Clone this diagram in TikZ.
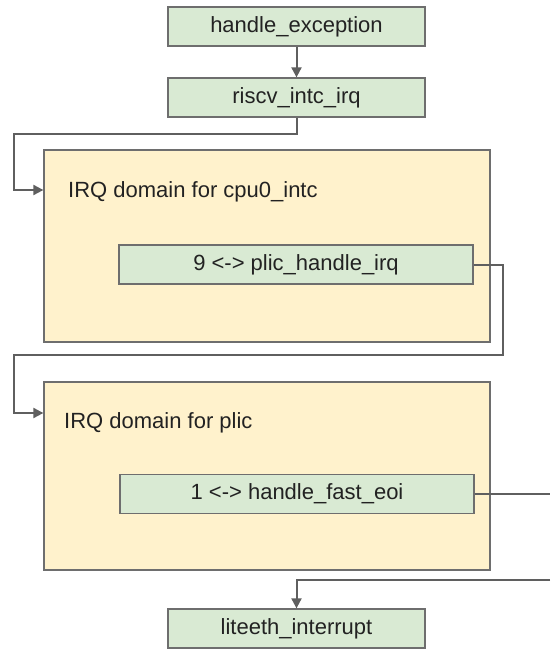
\documentclass[tikz,border=0pt]{standalone}
\usepackage{fontspec}
\setmainfont{Liberation Sans}
\usetikzlibrary{arrows.meta}
\definecolor{gfill}{HTML}{D9EAD3}
\definecolor{yfill}{HTML}{FFF2CC}
\definecolor{edge}{HTML}{6E6E6E}
\definecolor{lineg}{HTML}{5F5F5F}
\definecolor{txt}{HTML}{222222}
\begin{document}
\begin{tikzpicture}[x=1pt,y=-1pt,
  fn/.style={draw=edge,line width=1.3pt,fill=gfill,minimum height=39pt,inner sep=0pt,text=txt,font=\fontsize{22}{25}\selectfont},
  dom/.style={draw=edge,line width=1.3pt,fill=yfill,inner sep=0pt},
  lab/.style={anchor=west,inner sep=0pt,text=txt,font=\fontsize{22}{25}\selectfont},
  conn/.style={draw=lineg,line width=2pt,-{Triangle[length=10pt,width=10pt]}},
  plain/.style={draw=lineg,line width=2pt}]
\useasboundingbox (0,0) rectangle (550,650);
\fill[white] (0,0) rectangle (550,650);
\node[fn,minimum width=257pt] (he) at (296.5,26.5) {handle\_exception};
\node[fn,minimum width=257pt] (ri) at (296.5,97.5) {riscv\_intc\_irq};
\node[dom,minimum width=446pt,minimum height=192pt] (d1) at (267,246) {};
\node[lab] (l1) at (68,192) {IRQ domain for cpu0\_intc};
\node[fn,minimum width=354pt] (p1) at (296,264.5) {9 <-> plic\_handle\_irq};
\node[dom,minimum width=446pt,minimum height=188pt] (d2) at (267,476) {};
\node[lab] (l2) at (64,423) {IRQ domain for plic};
\node[fn,minimum width=354pt] (p2) at (297,494) {1 <-> handle\_fast\_eoi};
\node[fn,minimum width=257pt] (li) at (296.5,628.5) {liteeth\_interrupt};
\coordinate (a1) at (14,134);
\coordinate (a2) at (14,190);
\coordinate (b1) at (503,264.5);
\coordinate (b2) at (503,355);
\coordinate (b3) at (14,355);
\coordinate (b4) at (14,413);
\coordinate (c1) at (550,494);
\coordinate (c2) at (550,580);
\draw[conn] (he.south) -- (ri.north);
\draw[conn] (ri.south) |- (a1) -- (a2) -- (a2 -| d1.west);
\draw[conn] (p1.east) -- (b1) -- (b2) -- (b3) -- (b4) -- (b4 -| d2.west);
\draw[plain] (p2.east) -- (c1);
\draw[conn] (c2) -| (li.north);
\end{tikzpicture}
\end{document}
